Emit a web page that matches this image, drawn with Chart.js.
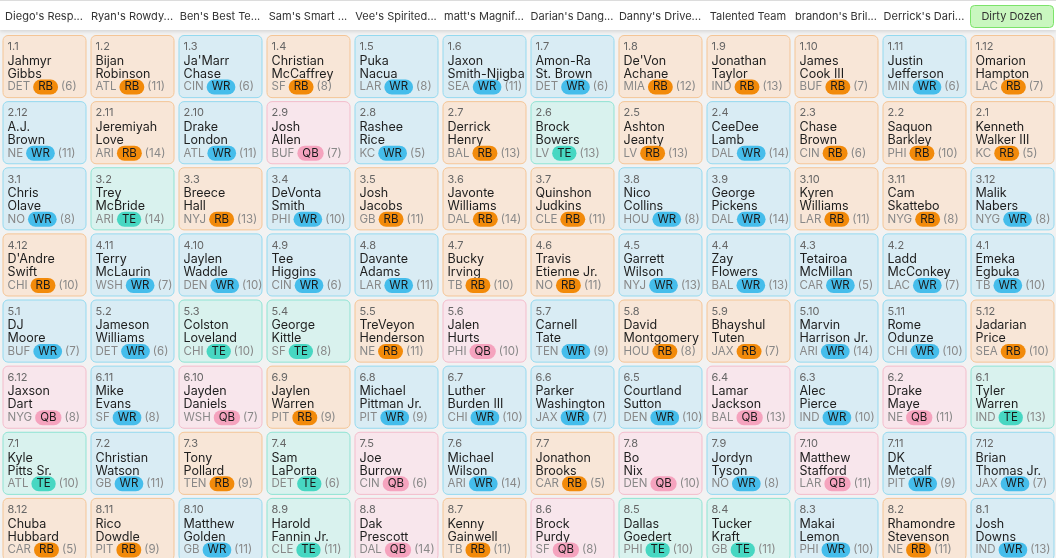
<!DOCTYPE html>
<html>
<head>
<meta charset="utf-8">
<script src="https://cdn.jsdelivr.net/npm/chart.js@4/dist/chart.umd.min.js"></script>
<style>
  html, body { margin: 0; padding: 0; background: #f2f2f2; overflow: hidden; }
  #wrap { width: 1056px; height: 562px; position: relative; }
</style>
</head>
<body>
<div id="wrap"><canvas id="board"></canvas></div>
<script>
const teams = ["Diego's Resp...", "Ryan's Rowdy...", "Ben's Best Te...", "Sam's Smart ...", "Vee's Spirited...", "matt's Magnif...", "Darian's Dang...", "Danny's Drive...", "Talented Team", "brandon's Bril...", "Derrick's Dari...", "Dirty Dozen"];

// picks per round, listed left to right as shown on the board
const round1 = ["Jahmyr Gibbs|DET|RB|6", "Bijan Robinson|ATL|RB|11", "Ja'Marr Chase|CIN|WR|6", "Christian McCaffrey|SF|RB|8", "Puka Nacua|LAR|WR|8", "Jaxon Smith-Njigba|SEA|WR|11", "Amon-Ra St. Brown|DET|WR|6", "De'Von Achane|MIA|RB|12", "Jonathan Taylor|IND|RB|13", "James Cook III|BUF|RB|7", "Justin Jefferson|MIN|WR|6", "Omarion Hampton|LAC|RB|7"];
const round2 = ["A.J. Brown|NE|WR|11", "Jeremiyah Love|ARI|RB|14", "Drake London|ATL|WR|11", "Josh Allen|BUF|QB|7", "Rashee Rice|KC|WR|5", "Derrick Henry|BAL|RB|13", "Brock Bowers|LV|TE|13", "Ashton Jeanty|LV|RB|13", "CeeDee Lamb|DAL|WR|14", "Chase Brown|CIN|RB|6", "Saquon Barkley|PHI|RB|10", "Kenneth Walker III|KC|RB|5"];
const round3 = ["Chris Olave|NO|WR|8", "Trey McBride|ARI|TE|14", "Breece Hall|NYJ|RB|13", "DeVonta Smith|PHI|WR|10", "Josh Jacobs|GB|RB|11", "Javonte Williams|DAL|RB|14", "Quinshon Judkins|CLE|RB|11", "Nico Collins|HOU|WR|8", "George Pickens|DAL|WR|14", "Kyren Williams|LAR|RB|11", "Cam Skattebo|NYG|RB|8", "Malik Nabers|NYG|WR|8"];
const round4 = ["D'Andre Swift|CHI|RB|10", "Terry McLaurin|WSH|WR|7", "Jaylen Waddle|DEN|WR|10", "Tee Higgins|CIN|WR|6", "Davante Adams|LAR|WR|11", "Bucky Irving|TB|RB|10", "Travis Etienne Jr.|NO|RB|11", "Garrett Wilson|NYJ|WR|13", "Zay Flowers|BAL|WR|13", "Tetairoa McMillan|CAR|WR|5", "Ladd McConkey|LAC|WR|7", "Emeka Egbuka|TB|WR|10"];
const round5 = ["DJ Moore|BUF|WR|7", "Jameson Williams|DET|WR|6", "Colston Loveland|CHI|TE|10", "George Kittle|SF|TE|8", "TreVeyon Henderson|NE|RB|11", "Jalen Hurts|PHI|QB|10", "Carnell Tate|TEN|WR|9", "David Montgomery|HOU|RB|8", "Bhayshul Tuten|JAX|RB|7", "Marvin Harrison Jr.|ARI|WR|14", "Rome Odunze|CHI|WR|10", "Jadarian Price|SEA|RB|10"];
const round6 = ["Jaxson Dart|NYG|QB|8", "Mike Evans|SF|WR|8", "Jayden Daniels|WSH|QB|7", "Jaylen Warren|PIT|RB|9", "Michael Pittman Jr.|PIT|WR|9", "Luther Burden III|CHI|WR|10", "Parker Washington|JAX|WR|7", "Courtland Sutton|DEN|WR|10", "Lamar Jackson|BAL|QB|13", "Alec Pierce|IND|WR|10", "Drake Maye|NE|QB|11", "Tyler Warren|IND|TE|13"];
const round7 = ["Kyle Pitts Sr.|ATL|TE|10", "Christian Watson|GB|WR|11", "Tony Pollard|TEN|RB|9", "Sam LaPorta|DET|TE|6", "Joe Burrow|CIN|QB|6", "Michael Wilson|ARI|WR|14", "Jonathon Brooks|CAR|RB|5", "Bo Nix|DEN|QB|10", "Jordyn Tyson|NO|WR|8", "Matthew Stafford|LAR|QB|11", "DK Metcalf|PIT|WR|9", "Brian Thomas Jr.|JAX|WR|7"];
const round8 = ["Chuba Hubbard|CAR|RB|5", "Rico Dowdle|PIT|RB|9", "Matthew Golden|GB|WR|11", "Harold Fannin Jr.|CLE|TE|11", "Dak Prescott|DAL|QB|14", "Kenny Gainwell|TB|RB|11", "Brock Purdy|SF|QB|8", "Dallas Goedert|PHI|TE|10", "Tucker Kraft|GB|TE|11", "Makai Lemon|PHI|WR|10", "Rhamondre Stevenson|NE|RB|11", "Josh Downs|IND|WR|13"];
const rounds = [round1, round2, round3, round4, round5, round6, round7, round8];

const posColors = {
  RB: { bg: '#f8e6d7', border: '#f4c596', badge: '#f28a0a' },
  WR: { bg: '#d9ecf4', border: '#94d9ef', badge: '#45bdeb' },
  QB: { bg: '#f8e6ec', border: '#f3bccb', badge: '#f5a3be' },
  TE: { bg: '#d9f2ee', border: '#8fe3d3', badge: '#47d7c2' }
};

const points = [];
rounds.forEach((r, ri) => r.forEach((p, ci) => {
  const [name, team, pos, bye] = p.split('|');
  const pickNo = (ri % 2 === 0) ? ci + 1 : 12 - ci;
  points.push({ x: ci, y: ri + 1, name, team, pos, bye, label: (ri + 1) + '.' + pickNo });
}));

function roundRect(ctx, x, y, w, h, r) {
  ctx.beginPath();
  ctx.moveTo(x + r, y);
  ctx.arcTo(x + w, y, x + w, y + h, r);
  ctx.arcTo(x + w, y + h, x, y + h, r);
  ctx.arcTo(x, y + h, x, y, r);
  ctx.arcTo(x, y, x + w, y, r);
  ctx.closePath();
}

const boardPlugin = {
  id: 'board',
  afterDatasetsDraw(chart) {
    const ctx = chart.ctx;
    const xs = chart.scales.x, ys = chart.scales.y;
    const colW = xs.getPixelForValue(1) - xs.getPixelForValue(0);
    const rowH = ys.getPixelForValue(2) - ys.getPixelForValue(1);
    const cw = colW - 5, ch = rowH - 4;
    ctx.save();
    points.forEach(p => {
      const cx = xs.getPixelForValue(p.x), cy = ys.getPixelForValue(p.y);
      const x = cx - cw / 2, y = cy - ch / 2;
      const c = posColors[p.pos];
      roundRect(ctx, x + 0.5, y + 0.5, cw, ch, 5);
      ctx.fillStyle = c.bg; ctx.fill();
      ctx.strokeStyle = c.border; ctx.lineWidth = 1; ctx.stroke();
      ctx.textBaseline = 'middle'; ctx.textAlign = 'left';
      ctx.fillStyle = '#666';
      ctx.font = '11px Inter, sans-serif';
      ctx.fillText(p.label, x + 5, y + 12);
      const sp = p.name.indexOf(' ');
      ctx.fillStyle = '#1e1e1e';
      ctx.font = '12.5px Inter, sans-serif';
      ctx.fillText(p.name.slice(0, sp), x + 5, y + 26);
      ctx.fillText(p.name.slice(sp + 1), x + 5, y + 39);
      const by = y + 52;
      ctx.font = '11.5px Inter, sans-serif';
      ctx.fillStyle = '#888';
      ctx.fillText(p.team, x + 5, by);
      let bx = x + 5 + ctx.measureText(p.team).width + 3;
      const bw = ctx.measureText(p.pos).width + 10;
      roundRect(ctx, bx, by - 7.5, bw, 15, 7.5);
      ctx.fillStyle = c.badge; ctx.fill();
      ctx.fillStyle = '#1a1a1a';
      ctx.fillText(p.pos, bx + 5, by);
      ctx.fillStyle = '#888';
      ctx.fillText('(' + p.bye + ')', bx + bw + 3, by);
    });
    // header band
    ctx.shadowColor = 'rgba(0,0,0,0.15)';
    ctx.shadowBlur = 4; ctx.shadowOffsetY = 1;
    ctx.fillStyle = '#ffffff';
    ctx.fillRect(0, 0, chart.width, 30);
    ctx.shadowColor = 'transparent';
    ctx.fillStyle = '#dcdcdc';
    ctx.fillRect(0, 0, chart.width, 1);
    teams.forEach((t, i) => {
      const cx = xs.getPixelForValue(i);
      if (i === teams.length - 1) {
        roundRect(ctx, cx - 41.5, 5.5, 83, 22, 4);
        ctx.fillStyle = '#c9f7bf'; ctx.fill();
        ctx.strokeStyle = '#7ce36a'; ctx.stroke();
      }
      ctx.fillStyle = '#333';
      ctx.font = '11px Inter, sans-serif';
      ctx.textAlign = 'center';
      ctx.fillText(t, cx, 16.5);
    });
    ctx.restore();
  }
};

new Chart(document.getElementById('board').getContext('2d'), {
  type: 'scatter',
  data: { datasets: [{ data: points, pointRadius: 0 }] },
  options: {
    responsive: true,
    maintainAspectRatio: false,
    animation: false,
    layout: { padding: { top: 33, left: 0, right: 0, bottom: 0 } },
    scales: {
      x: { display: false, min: -0.5, max: 11.5 },
      y: { display: false, min: 0.5, max: 8.5, reverse: true }
    },
    plugins: { legend: { display: false }, tooltip: { enabled: false } }
  },
  plugins: [boardPlugin]
});
</script>
</body>
</html>
